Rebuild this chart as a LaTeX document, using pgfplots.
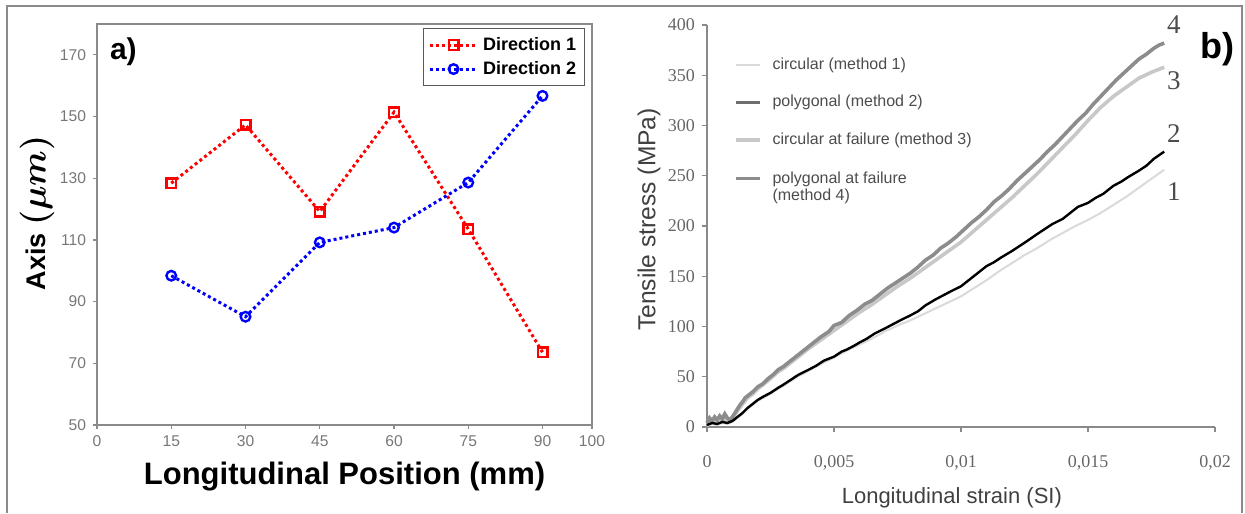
\documentclass[border=0pt]{standalone}
\usepackage{pgfplots}
\pgfplotsset{compat=1.18}
\usepackage{fontspec}
\setmainfont{Liberation Sans}
\newfontfamily\serif{Liberation Serif}
\definecolor{ticktxt}{HTML}{777777}
\definecolor{axgray}{HTML}{8A8A8A}
\definecolor{cOne}{HTML}{DADADA}
\definecolor{cTwoLeg}{HTML}{6E6E6E}
\definecolor{cThree}{HTML}{C8C8C8}
\definecolor{cFour}{HTML}{8C8C8C}
\begin{document}
\begin{tikzpicture}
\useasboundingbox (0,0) rectangle (622.5pt,256.5pt);
\draw[color=axgray,line width=0.8pt] (3.5pt,0pt) -- (3.5pt,253.5pt) -- (621pt,253.5pt) -- (621pt,0pt);
\pgfplotsset{legend image code/.code={\draw[mark repeat=2,mark phase=2,#1] plot coordinates {(0pt,0pt) (12pt,0pt) (24pt,0pt)};}}
% ---------------- panel a
\begin{axis}[
  at={(48.5pt,44pt)}, anchor=south west,
  width=247.5pt, height=200.5pt, scale only axis,
  xmin=0, xmax=100, ymin=50, ymax=180,
  xtick={0,15,30,45,60,75,90,100},
  ytick={50,70,90,110,130,150,170},
  /pgf/number format/assume math mode=true,
  tick label style={font=\fontsize{7.8}{8}\selectfont, color=ticktxt},
  tick align=outside, major tick length=2pt,
  tick style={color=axgray, line width=0.6pt},
  xtick pos=bottom, ytick pos=left,
  axis line style={color=axgray, line width=0.8pt},
  xlabel={Longitudinal Position (mm)},
  xlabel style={font=\bfseries\fontsize{15.5}{16}\selectfont, at={(axis description cs:0.5,0)}, anchor=base, yshift=-30pt},
  ylabel={{\bfseries\fontsize{13.5}{14}\selectfont Axis }{\fontsize{19}{20}\selectfont\boldmath$(\mu m)$}},
  ylabel style={at={(axis description cs:-0.121,0.529)}, anchor=center},
  legend style={at={(axis description cs:0.986,0.99)}, anchor=north east, draw=black!65, line width=0.6pt,
    font=\bfseries\fontsize{9}{10}\selectfont, inner sep=2.2pt, row sep=0pt},
  legend cell align=left,
  clip=false,
]
\addplot[red, line width=1.5pt, dash pattern=on 1.5pt off 1.5pt, mark=square, mark size=2.4pt,
  mark options={solid, line width=1.2pt}] coordinates {
  (15,128.4) (30,147.3) (45,119.2) (60,151.4) (75,113.5) (90,73.6)};
\addlegendentry{Direction 1}
\addplot[blue, line width=1.5pt, dash pattern=on 1.5pt off 1.5pt, mark=o, mark size=2.4pt,
  mark options={solid, line width=1.2pt}] coordinates {
  (15,98.4) (30,85.1) (45,109.2) (60,114.0) (75,128.6) (90,156.7)};
\addlegendentry{Direction 2}
\node[anchor=west, font=\bfseries\fontsize{15}{15}\selectfont] at (rel axis cs:0.012,0.93) {a)};
\end{axis}
\pgfplotsset{legend image code/.code={\draw[#1] (0pt,0pt) -- (12pt,0pt);}}
% ---------------- panel b
\begin{axis}[
  at={(353.5pt,43pt)}, anchor=south west,
  width=254pt, height=201pt, scale only axis,
  xmin=0, xmax=0.02, ymin=0, ymax=400,
  axis x line=bottom, axis y line=left,
  axis line style={-, color=axgray, line width=0.8pt},
  xtick={0,0.005,0.01,0.015,0.02},
  xticklabels={0,{0,005},{0,01},{0,015},{0,02}},
  scaled x ticks=false,
  ytick={0,50,...,400},
  /pgf/number format/assume math mode=true,
  tick label style={font=\serif\fontsize{9}{10}\selectfont, color=black!60},
  xticklabel style={yshift=-8pt},
  tick align=outside, major tick length=2.5pt,
  tick style={color=axgray, line width=0.6pt},
  xlabel={Longitudinal strain (SI)},
  xlabel style={font=\fontsize{11}{12}\selectfont, color=black!75, at={(axis description cs:0.482,0)}, anchor=center, yshift=-35.5pt},
  ylabel={Tensile stress (MPa)},
  ylabel style={font=\fontsize{12.3}{13}\selectfont, color=black!75, at={(axis description cs:-0.114,0.516)}, anchor=center},
  legend style={at={(axis description cs:0.053,0.93)}, anchor=north west, draw=none, fill=none,
    font=\fontsize{8}{9.5}\selectfont, text=black!70, row sep=7.5pt, inner sep=0pt, column sep=3.5pt},
  legend cell align=left,
  clip=false,
]
\addplot[cOne, line width=1pt, forget plot] coordinates {
 (0,1) (0.0002,3) (0.0004,2) (0.0006,4) (0.0008,3) (0.001,5) (0.0012,9) (0.0014,13) (0.0016,18) (0.0018,22)
 (0.002,26) (0.0025,33) (0.003,41) (0.0035,49) (0.004,56) (0.0045,63) (0.005,69) (0.0055,76) (0.006,82)
 (0.0065,88) (0.007,95) (0.0075,101) (0.008,106) (0.0085,112) (0.009,118) (0.0095,124) (0.01,130)
 (0.0105,138) (0.011,146) (0.0115,155) (0.012,163) (0.0125,171) (0.013,178) (0.0135,186) (0.014,193)
 (0.0145,200) (0.015,206) (0.0155,213) (0.016,221) (0.0165,229) (0.017,238) (0.0175,247) (0.018,256)};
\addplot[cThree, line width=1.8pt, forget plot] coordinates {
 (0,3) (0.0002,7) (0.0004,5) (0.0006,9) (0.0008,6) (0.001,8) (0.0012,16) (0.0014,23) (0.0016,29) (0.0018,33)
 (0.002,38) (0.0024,46) (0.0028,55) (0.003,58) (0.0035,68) (0.004,78) (0.0045,87) (0.005,96) (0.0055,105)
 (0.006,114) (0.0065,122) (0.007,131) (0.0075,140) (0.008,148) (0.0085,157) (0.009,166) (0.0095,175)
 (0.01,184) (0.0105,195) (0.011,206) (0.0115,217) (0.012,228) (0.0125,240) (0.013,252) (0.0135,265)
 (0.014,278) (0.0145,291) (0.015,305) (0.0155,318) (0.016,329) (0.0165,338) (0.017,347) (0.0175,353) (0.018,358)};
\addplot[cFour, line width=1.8pt, forget plot] coordinates {
 (0,4) (0.0001,9) (0.0002,6) (0.0003,10) (0.0004,7) (0.0005,11) (0.0006,8) (0.0007,13) (0.0008,9) (0.0009,7)
 (0.001,10) (0.0011,14) (0.0012,18) (0.0013,22) (0.0014,25) (0.0015,29) (0.0016,31) (0.0018,35) (0.002,40)
 (0.0022,43) (0.0024,48) (0.0026,52) (0.0028,57) (0.003,60) (0.0033,66) (0.0036,72) (0.0039,78) (0.0042,84)
 (0.0045,90) (0.0048,95) (0.005,101) (0.0053,104) (0.0056,111) (0.0059,116) (0.0062,122) (0.0065,126)
 (0.0068,132) (0.0071,138) (0.0074,143) (0.0077,148) (0.008,153) (0.0083,159) (0.0086,166) (0.0089,171)
 (0.0092,178) (0.0095,183) (0.0098,189) (0.0101,196) (0.0104,203) (0.0107,209) (0.011,216) (0.0113,224)
 (0.0116,230) (0.0119,237) (0.0122,245) (0.0125,252) (0.0128,259) (0.0131,266) (0.0134,274) (0.0137,281)
 (0.014,289) (0.0143,297) (0.0146,305) (0.0149,312) (0.0152,321) (0.0155,329) (0.0158,337) (0.0161,345)
 (0.0164,352) (0.0167,359) (0.017,366) (0.0173,371) (0.0176,377) (0.0178,380) (0.018,382)};
\addplot[black, line width=1.2pt, forget plot] coordinates {
 (0,2) (0.0002,4) (0.0004,3) (0.0006,5) (0.0008,4) (0.001,6) (0.0012,10) (0.0014,14) (0.0016,19) (0.0018,23)
 (0.002,27) (0.0022,30) (0.0025,34) (0.0028,39) (0.003,42) (0.0033,47) (0.0036,52) (0.004,57) (0.0043,61)
 (0.0046,66) (0.005,70) (0.0053,75) (0.0055,77) (0.0058,81) (0.006,84) (0.0063,88) (0.0066,93) (0.007,98)
 (0.0073,102) (0.0076,106) (0.008,111) (0.0083,115) (0.0086,121) (0.009,127) (0.0093,131) (0.0096,135)
 (0.01,140) (0.0103,146) (0.0106,152) (0.011,160) (0.0113,164) (0.0116,169) (0.012,175) (0.0123,180)
 (0.0126,185) (0.013,192) (0.0133,197) (0.0136,202) (0.014,207) (0.0143,213) (0.0146,219) (0.015,223)
 (0.0153,228) (0.0156,232) (0.016,240) (0.0163,244) (0.0166,249) (0.017,255) (0.0173,260) (0.0176,267) (0.018,274)};
\addlegendimage{cOne, line width=0.8pt}
\addlegendentry{circular (method 1)}
\addlegendimage{cTwoLeg, line width=1.6pt}
\addlegendentry{polygonal (method 2)}
\addlegendimage{cThree, line width=1.6pt}
\addlegendentry{circular at failure (method 3)}
\addlegendimage{cFour, line width=1.6pt}
\addlegendentry{\raisebox{0pt}[\height][0pt]{\begin{tabular}[t]{@{}l@{}}polygonal at failure\\[-1pt](method 4)\end{tabular}}}
\node[font=\serif\fontsize{13.5}{14}\selectfont, text=black!70] at (axis cs:0.01838,400) {4};
\node[font=\serif\fontsize{13.5}{14}\selectfont, text=black!70] at (axis cs:0.01838,345) {3};
\node[font=\serif\fontsize{13.5}{14}\selectfont, text=black!70] at (axis cs:0.01838,292) {2};
\node[font=\serif\fontsize{13.5}{14}\selectfont, text=black!70] at (axis cs:0.01838,234) {1};
\node[font=\bfseries\fontsize{18}{18}\selectfont] at (rel axis cs:1.004,0.94) {b)};
\end{axis}
\end{tikzpicture}
\end{document}
